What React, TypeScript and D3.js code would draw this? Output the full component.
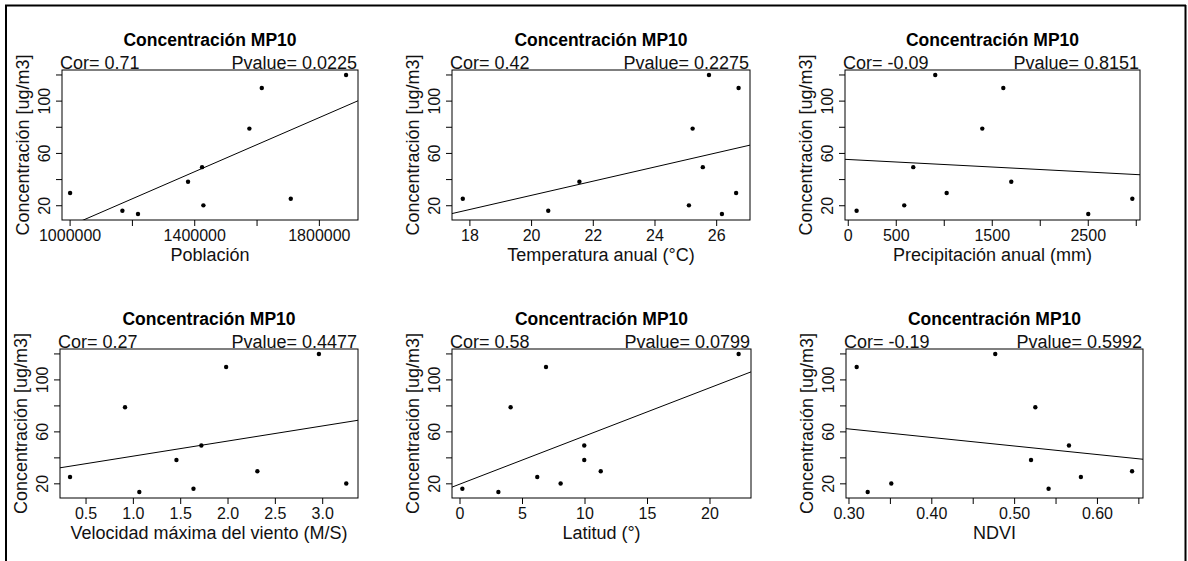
import React from "react";
import * as d3 from "d3";

// ---- Data ----
const concentracion = [120, 110, 79, 49.5, 38.3, 29.7, 25.3, 20.3, 16.2, 13.7];
const poblacion = [1885700, 1615200, 1575400, 1423500, 1378500, 1000000, 1708200, 1427800, 1167800, 1217900];
const temperatura = [25.75, 26.71, 25.22, 25.55, 21.55, 26.63, 17.77, 25.1, 20.54, 26.17];
const precipitacion = [906, 1615, 1396, 677, 1698, 1025, 2959, 583, 87, 2500];
const viento = [2.96, 1.98, 0.912, 1.718, 1.455, 2.31, 0.331, 3.249, 1.635, 1.063];
const latitud = [22.29, 6.88, 4.05, 9.94, 9.94, 11.26, 6.18, 8.05, 0.19, 3.07];
const ndvi = [0.4766, 0.3093, 0.525, 0.5656, 0.5198, 0.6418, 0.58, 0.3511, 0.541, 0.3226];

const xLabels = [
  "Población",
  "Temperatura anual (°C)",
  "Precipitación anual (mm)",
  "Velocidad máxima del viento (M/S)",
  "Latitud (°)",
  "NDVI",
];
const corTexts = ["Cor= 0.71", "Cor= 0.42", "Cor= -0.09", "Cor= 0.27", "Cor= 0.58", "Cor= -0.19"];
const pTexts = ["Pvalue= 0.0225", "Pvalue= 0.2275", "Pvalue= 0.8151", "Pvalue= 0.4477", "Pvalue= 0.0799", "Pvalue= 0.5992"];

const yTicks = [20, 40, 60, 80, 100, 120];
const yTickLabels = [20, 60, 100];

const xTicksList = [
  [1000000, 1200000, 1400000, 1600000, 1800000],
  [18, 20, 22, 24, 26],
  [0, 500, 1000, 1500, 2000, 2500, 3000],
  [0.5, 1.0, 1.5, 2.0, 2.5, 3.0],
  [0, 5, 10, 15, 20],
  [0.3, 0.35, 0.4, 0.45, 0.5, 0.55, 0.6, 0.65],
];
const xTickLabelsList = [
  [1000000, 1400000, 1800000],
  [18, 20, 22, 24, 26],
  [0, 500, 1500, 2500],
  [0.5, 1.0, 1.5, 2.0, 2.5, 3.0],
  [0, 5, 10, 15, 20],
  [0.3, 0.4, 0.5, 0.6],
];
const xFormats = ["d", "d", "d", ".1f", "d", ".2f"];
const xDomains: [number, number][] = [
  [974000, 1924000],
  [17.42, 27.08],
  [-34, 3039],
  [0.225, 3.373],
  [-0.64, 23.28],
  [0.2964, 0.655],
];
const yDomain: [number, number] = [9.1, 123.8];

const xSeries = [poblacion, temperatura, precipitacion, viento, latitud, ndvi];

// ---- Layout ----
const boxes = [
  { x0: 62, x1: 358, y0: 70, y1: 220 },
  { x0: 452, x1: 750, y0: 70, y1: 220 },
  { x0: 845, x1: 1140, y0: 70, y1: 220 },
  { x0: 60, x1: 358, y0: 349, y1: 498 },
  { x0: 452, x1: 751, y0: 349, y1: 498 },
  { x0: 846, x1: 1143, y0: 349, y1: 498 },
];

const FONT = "'Liberation Sans', Arial, Helvetica, sans-serif";
const TXT = "#111";

function linreg(xs: number[], ys: number[]) {
  const mx = d3.mean(xs)!;
  const my = d3.mean(ys)!;
  let sxy = 0, sxx = 0;
  xs.forEach((x, i) => {
    sxy += (x - mx) * (ys[i] - my);
    sxx += (x - mx) * (x - mx);
  });
  const b = sxy / sxx;
  return { a: my - b * mx, b };
}

function Panel({ i }: { i: number }) {
  const bx = boxes[i];
  const xs = xSeries[i];
  const x = d3.scaleLinear().domain(xDomains[i]).range([bx.x0, bx.x1]);
  const y = d3.scaleLinear().domain(yDomain).range([bx.y1, bx.y0]);
  const fmt = d3.format(xFormats[i]);
  const { a, b } = linreg(xs, concentracion);
  const [d0, d1] = xDomains[i];
  const line = d3.line<[number, number]>().x((d) => x(d[0])).y((d) => y(d[1]));
  const regPath = line([
    [d0, a + b * d0],
    [d1, a + b * d1],
  ]);
  const cx = (bx.x0 + bx.x1) / 2;
  const cy = (bx.y0 + bx.y1) / 2;
  const clipId = `clip-${i}`;
  return (
    <g>
      <defs>
        <clipPath id={clipId}>
          <rect x={bx.x0} y={bx.y0} width={bx.x1 - bx.x0} height={bx.y1 - bx.y0} />
        </clipPath>
      </defs>
      {/* title */}
      <text x={cx} y={bx.y0 - 24} textAnchor="middle" fontFamily={FONT} fontWeight="bold" fontSize={17.5} fill="#000">
        Concentración MP10
      </text>
      <text x={bx.x0 - 2} y={bx.y0 - 1} textAnchor="start" fontFamily={FONT} fontSize={18} fill={TXT}>
        {corTexts[i]}
      </text>
      <text x={bx.x1 - 1} y={bx.y0 - 1} textAnchor="end" fontFamily={FONT} fontSize={18} fill={TXT}>
        {pTexts[i]}
      </text>
      {/* regression line */}
      <path d={regPath || ""} stroke="#000" strokeWidth={1} fill="none" clipPath={`url(#${clipId})`} />
      {/* points */}
      {xs.map((v, k) => (
        <circle key={k} cx={x(v)} cy={y(concentracion[k])} r={2.2} fill="#000" />
      ))}
      {/* box */}
      <rect x={bx.x0} y={bx.y0} width={bx.x1 - bx.x0} height={bx.y1 - bx.y0} fill="none" stroke="#000" strokeWidth={1} />
      {/* x ticks */}
      {xTicksList[i].map((t) => (
        <line key={t} x1={x(t)} x2={x(t)} y1={bx.y1} y2={bx.y1 + 6} stroke="#000" strokeWidth={1} />
      ))}
      {xTickLabelsList[i].map((t) => (
        <text key={t} x={x(t)} y={bx.y1 + 21} textAnchor="middle" fontFamily={FONT} fontSize={16} fill={TXT}>
          {fmt(t)}
        </text>
      ))}
      <text x={cx} y={bx.y1 + 41} textAnchor="middle" fontFamily={FONT} fontSize={18} fill={TXT}>
        {xLabels[i]}
      </text>
      {/* y ticks */}
      {yTicks.map((t) => (
        <line key={t} x1={bx.x0 - 6} x2={bx.x0} y1={y(t)} y2={y(t)} stroke="#000" strokeWidth={1} />
      ))}
      {yTickLabels.map((t) => (
        <text
          key={t}
          transform={`translate(${bx.x0 - 12},${y(t)}) rotate(-90)`}
          textAnchor="middle"
          fontFamily={FONT}
          fontSize={16}
          fill={TXT}
        >
          {t}
        </text>
      ))}
      <text
        transform={`translate(${bx.x0 - 33},${cy}) rotate(-90)`}
        textAnchor="middle"
        fontFamily={FONT}
        fontSize={18}
        fill={TXT}
      >
        Concentración [ug/m3]
      </text>
    </g>
  );
}

export default function App() {
  return (
    <div style={{ position: "absolute", left: 0, top: 0 }}>
      <svg width={1188} height={561} style={{ display: "block", background: "#fff" }}>
        <rect x={0} y={0} width={1188} height={561} fill="#fff" />
        {/* outer frame */}
        <line x1={6} x2={6} y1={5} y2={561} stroke="#000" strokeWidth={2} />
        <line x1={5} x2={1186} y1={5.5} y2={5.5} stroke="#000" strokeWidth={2} />
        <line x1={1185.5} x2={1185.5} y1={5} y2={561} stroke="#000" strokeWidth={2} />
        {boxes.map((_, i) => (
          <Panel key={i} i={i} />
        ))}
      </svg>
    </div>
  );
}
